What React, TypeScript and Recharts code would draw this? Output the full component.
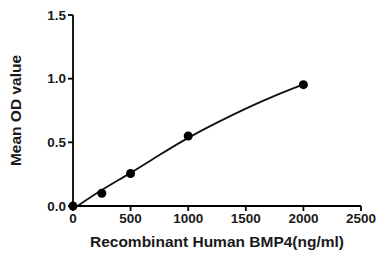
import { ComposedChart, Line, Scatter, XAxis, YAxis } from 'recharts';

const concentrations = [0, 250, 500, 1000, 2000];
const meanOD = [0, 0.1, 0.255, 0.55, 0.953];

// fitted curve
const fitX = [40, 250, 500, 750, 1000, 1250, 1500, 1750, 2000];
const fitY = [0, 0.125, 0.26, 0.4, 0.535, 0.655, 0.765, 0.865, 0.955];

const xTicks = [0, 500, 1000, 1500, 2000, 2500];
const yTicks = [0, 0.5, 1.0, 1.5];

const points = concentrations.map((x, i) => ({ x, y: meanOD[i] }));
const fit = fitX.map((x, i) => ({ x, y: fitY[i] }));

const font = 'Liberation Sans, Arial, sans-serif';
const tickStyle = { fontSize: 13.5, fontWeight: 700, fill: '#1a1a1a', fontFamily: font };
const labelStyle = { fontSize: 15.5, fontWeight: 700, fill: '#1a1a1a', fontFamily: font };

export default function App() {
  return (
    <div style={{ position: 'absolute', left: 0, top: 0, width: 384, height: 256, background: '#fff' }}>
      <ComposedChart width={384} height={256} margin={{ top: 15, right: 23, left: 0, bottom: 0 }}>
        <XAxis
          type="number"
          dataKey="x"
          domain={[0, 2500]}
          ticks={xTicks}
          tick={tickStyle}
          tickSize={5}
          height={50}
          stroke="#000"
          strokeWidth={1.8}
          label={{
            value: 'Recombinant Human BMP4(ng/ml)',
            position: 'insideBottom',
            offset: 9,
            style: labelStyle,
          }}
        />
        <YAxis
          type="number"
          dataKey="y"
          domain={[0, 1.5]}
          ticks={yTicks}
          tickFormatter={(v) => Number(v).toFixed(1)}
          tick={tickStyle}
          tickSize={5}
          width={73}
          stroke="#000"
          strokeWidth={1.8}
          label={{
            value: 'Mean OD value',
            angle: -90,
            position: 'insideLeft',
            offset: 15,
            style: { ...labelStyle, textAnchor: 'middle' },
          }}
        />
        <Line
          data={fit}
          dataKey="y"
          type="natural"
          stroke="#111"
          strokeWidth={1.8}
          dot={false}
          isAnimationActive={false}
        />
        <Scatter data={points} dataKey="y" fill="#000" shape="circle" isAnimationActive={false} />
      </ComposedChart>
    </div>
  );
}
